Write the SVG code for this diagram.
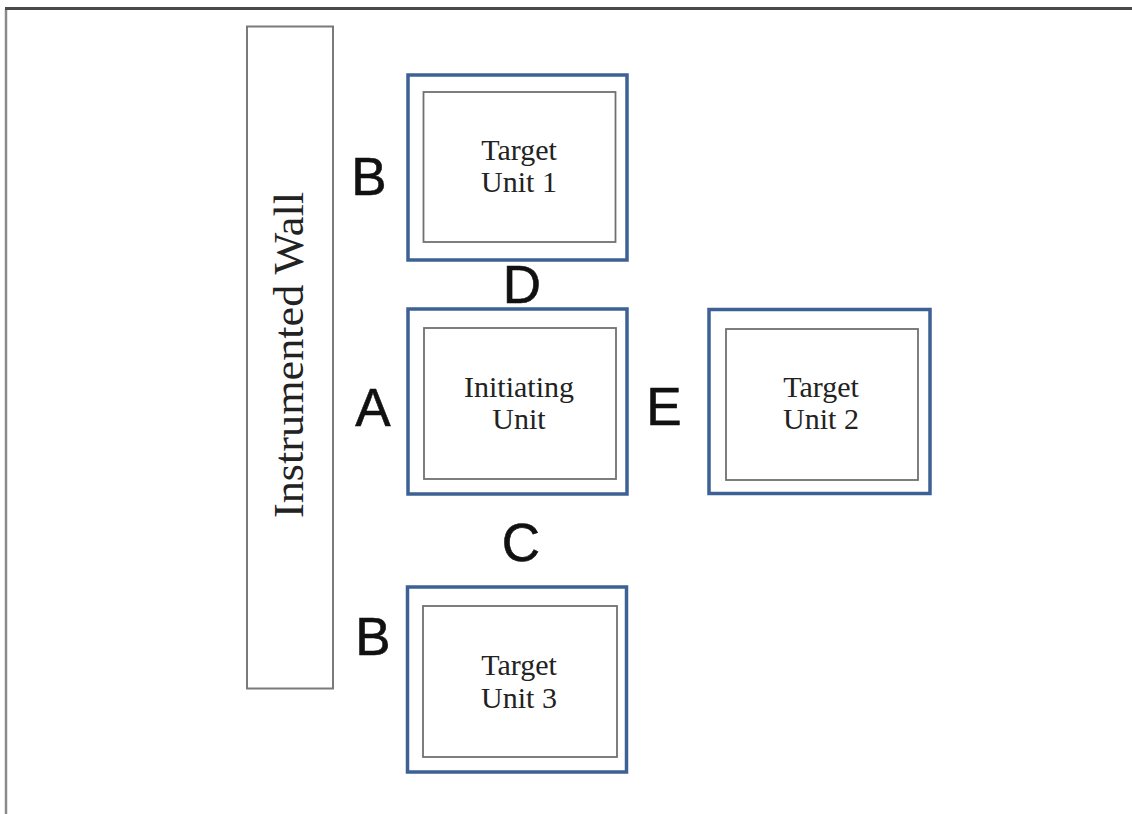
<svg xmlns="http://www.w3.org/2000/svg" width="1132" height="814" viewBox="0 0 1132 814">
<style>
.outer{fill:#fff;stroke:#3d6194;stroke-width:3.5}
.inner{fill:#fff;stroke:#707070;stroke-width:1.8}
.unit{font-family:"Liberation Serif","Times New Roman",serif;font-size:30px;fill:#222;text-anchor:middle}
.lbl{font-family:"Liberation Sans",Arial,sans-serif;font-size:53px;fill:#111;stroke:#111;stroke-width:0.6;text-anchor:middle}
</style>
<rect x="0" y="0" width="1132" height="814" fill="#fff"/>
<g id="frame">
<line x1="6" y1="9" x2="6" y2="814" stroke="#8a8a8a" stroke-width="2.5"/>
<line x1="5" y1="8.5" x2="1132" y2="8.5" stroke="#4a4a4a" stroke-width="3"/>
</g>
<g id="wall">
<rect x="247" y="26.5" width="86" height="662" fill="#fff" stroke="#7a7a7a" stroke-width="2"/>
<text transform="translate(303,355) rotate(-90)" font-family="'Liberation Serif','Times New Roman',serif" font-size="43" fill="#222" text-anchor="middle" textLength="326" lengthAdjust="spacingAndGlyphs">Instrumented Wall</text>
</g>
<g id="target1">
<rect class="outer" x="408" y="75" width="219" height="185"/>
<rect class="inner" x="423.5" y="92" width="192" height="150"/>
<text class="unit" x="519" y="160">Target</text>
<text class="unit" x="519" y="192">Unit 1</text>
</g>
<g id="initiating">
<rect class="outer" x="408" y="309" width="219" height="185"/>
<rect class="inner" x="424" y="328" width="192" height="151"/>
<text class="unit" x="519" y="397">Initiating</text>
<text class="unit" x="519" y="429">Unit</text>
</g>
<g id="target2">
<rect class="outer" x="709" y="309.5" width="221" height="184"/>
<rect class="inner" x="726" y="329" width="192" height="151"/>
<text class="unit" x="821" y="397">Target</text>
<text class="unit" x="821" y="429">Unit 2</text>
</g>
<g id="target3">
<rect class="outer" x="407.5" y="587" width="219" height="185"/>
<rect class="inner" x="423" y="606" width="194" height="151"/>
<text class="unit" x="519" y="675">Target</text>
<text class="unit" x="519" y="708">Unit 3</text>
</g>
<g id="labels">
<text class="lbl" x="369" y="195">B</text>
<text class="lbl" x="522" y="303">D</text>
<text class="lbl" x="373" y="426">A</text>
<text class="lbl" x="664" y="425">E</text>
<text class="lbl" x="521" y="561">C</text>
<text class="lbl" x="373" y="655">B</text>
</g>
<g id="connectors"></g>
</svg>
